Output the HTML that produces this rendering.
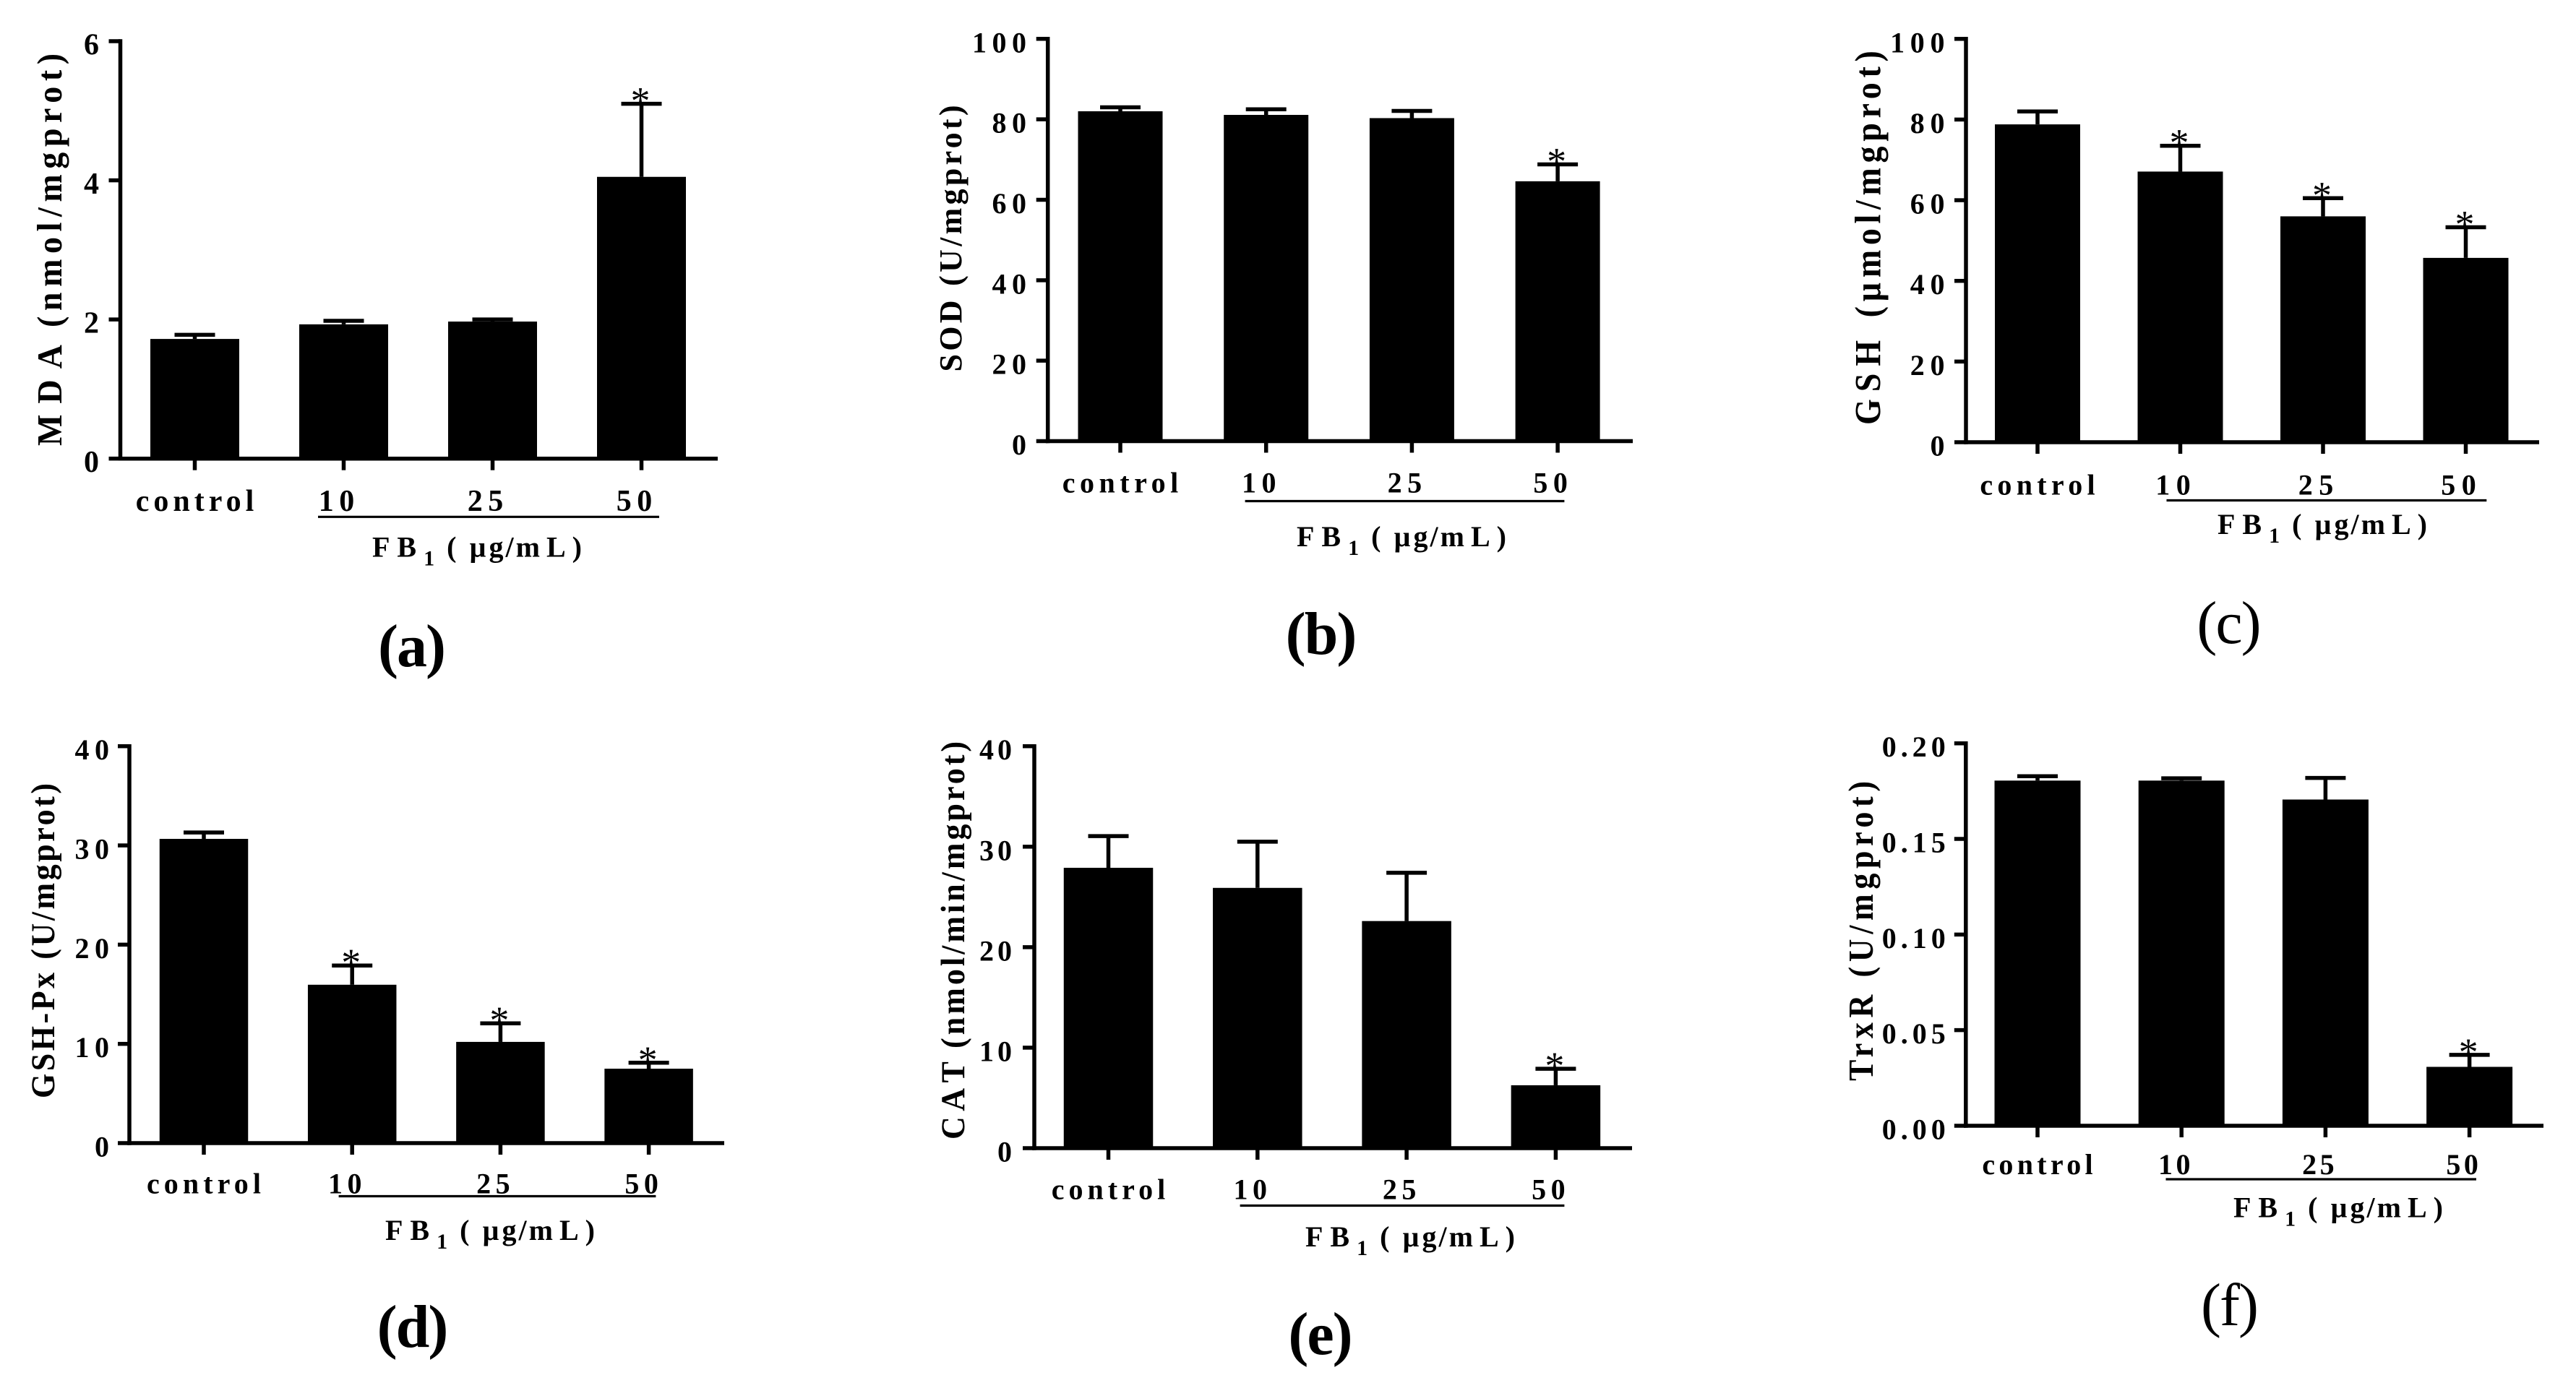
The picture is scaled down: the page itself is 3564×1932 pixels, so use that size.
<!DOCTYPE html>
<html lang="en">
<head>
<meta charset="utf-8">
<title>FB1 oxidative stress markers</title>
<style>
html,body{margin:0;padding:0;background:#fff;}
svg{display:block;}
text{font-family:"Liberation Serif",serif;fill:#000;}
.t{font-weight:bold;font-size:46px;}
.fb{font-weight:bold;font-size:40px;}
.cap{font-size:84px;text-anchor:middle;letter-spacing:-2px;}
.b{font-weight:bold;}
</style>
</head>
<body>
<svg id="figure" xmlns="http://www.w3.org/2000/svg" width="3564" height="1932" viewBox="0 0 3564 1932">
  <rect width="3564" height="1932" fill="#fff"/>

  <g id="panel-a">
    <text class="t" transform="translate(85,617) rotate(-90) scale(1,1.05)"><tspan letter-spacing="15">MD</tspan><tspan letter-spacing="7.6">A (nmol/mgprot)</tspan></text>
    <text class="fb" x="515" y="770.7"><tspan letter-spacing="10">FB</tspan><tspan dy="12" font-size="30" letter-spacing="3">1</tspan><tspan dy="-12" letter-spacing="4"> ( µ</tspan><tspan letter-spacing="3">g/</tspan><tspan letter-spacing="9">mL</tspan>)</text>
    <text class="cap b" x="569" y="922">(a)</text>
  </g>
  <g id="panel-b">
    <text class="t" style="font-size:44px" transform="translate(1330,514.5) rotate(-90)" textLength="369">SOD (U/mgprot)</text>
    <text class="fb" x="1794" y="756"><tspan letter-spacing="10">FB</tspan><tspan dy="12" font-size="30" letter-spacing="3">1</tspan><tspan dy="-12" letter-spacing="4"> ( µ</tspan><tspan letter-spacing="3">g/</tspan><tspan letter-spacing="9">mL</tspan>)</text>
    <text class="cap b" x="1827" y="905">(b)</text>
  </g>
  <g id="panel-c">
    <text class="t" transform="translate(2601.5,588) rotate(-90) scale(1,1.1)"><tspan letter-spacing="10">GSH </tspan><tspan letter-spacing="6.7">(µmol/mgprot)</tspan></text>
    <text class="fb" x="3068" y="739"><tspan letter-spacing="10">FB</tspan><tspan dy="12" font-size="30" letter-spacing="3">1</tspan><tspan dy="-12" letter-spacing="4"> ( µ</tspan><tspan letter-spacing="3">g/</tspan><tspan letter-spacing="9">mL</tspan>)</text>
    <text class="cap" x="3083" y="890">(c)</text>
  </g>
  <g id="panel-d">
    <text class="t" style="font-size:44px" transform="translate(75,1520) rotate(-90) scale(1,1.05)" textLength="436">GSH-Px (U/mgprot)</text>
    <text class="fb" x="533" y="1716"><tspan letter-spacing="10">FB</tspan><tspan dy="12" font-size="30" letter-spacing="3">1</tspan><tspan dy="-12" letter-spacing="4"> ( µ</tspan><tspan letter-spacing="3">g/</tspan><tspan letter-spacing="9">mL</tspan>)</text>
    <text class="cap b" x="570" y="1864">(d)</text>
  </g>
  <g id="panel-e">
    <text class="t" style="font-size:44px" transform="translate(1334,1577) rotate(-90) scale(1,1.05)"><tspan letter-spacing="7.5">CA</tspan><tspan letter-spacing="4">T (nmol/min/mgprot)</tspan></text>
    <text class="fb" x="1806" y="1725"><tspan letter-spacing="10">FB</tspan><tspan dy="12" font-size="30" letter-spacing="3">1</tspan><tspan dy="-12" letter-spacing="4"> ( µ</tspan><tspan letter-spacing="3">g/</tspan><tspan letter-spacing="9">mL</tspan>)</text>
    <text class="cap b" x="1826" y="1874">(e)</text>
  </g>
  <g id="panel-f">
    <text class="t" style="font-size:44px" transform="translate(2591,1496) rotate(-90) scale(1,1.1)" textLength="415">TrxR (U/mgprot)</text>
    <text class="fb" x="3090" y="1684.6"><tspan letter-spacing="10">FB</tspan><tspan dy="12" font-size="30" letter-spacing="3">1</tspan><tspan dy="-12" letter-spacing="4"> ( µ</tspan><tspan letter-spacing="3">g/</tspan><tspan letter-spacing="9">mL</tspan>)</text>
    <text class="cap" x="3084" y="1834">(f)</text>
  </g>
</svg>

<script>
// Shared category labels
const categories = ['control', '10', '25', '50'];

// Panel a: MDA
const mdaValues = [1.72, 1.93, 1.97, 4.05];
const mdaErrorTops = [1.78, 1.98, 2.0, 5.1];
const mdaSignificant = [false, false, false, true];
const mdaTicks = ['0', '2', '4', '6'];

// Panel b: SOD
const sodValues = [82.0, 81.1, 80.3, 64.6];
const sodErrorTops = [83.0, 82.5, 82.1, 68.8];
const sodSignificant = [false, false, false, true];
const sodTicks = ['0', '20', '40', '60', '80', '100'];

// Panel c: GSH
const gshValues = [78.8, 67.1, 56.0, 45.7];
const gshErrorTops = [82.0, 73.5, 60.5, 53.3];
const gshSignificant = [false, true, true, true];
const gshTicks = ['0', '20', '40', '60', '80', '100'];

// Panel d: GSH-Px
const gpxValues = [30.66, 15.96, 10.2, 7.5];
const gpxErrorTops = [31.3, 17.9, 12.07, 8.1];
const gpxSignificant = [false, true, true, true];
const gpxTicks = ['0', '10', '20', '30', '40'];

// Panel e: CAT
const catValues = [27.9, 25.9, 22.6, 6.26];
const catErrorTops = [31.05, 30.5, 27.4, 7.9];
const catSignificant = [false, false, false, true];
const catTicks = ['0', '10', '20', '30', '40'];

// Panel f: TrxR
const trxValues = [0.1805, 0.1805, 0.1706, 0.0308];
const trxErrorTops = [0.1828, 0.1817, 0.1819, 0.0371];
const trxSignificant = [false, false, false, true];
const trxTicks = ['0.00', '0.05', '0.10', '0.15', '0.20'];

const NS = 'http://www.w3.org/2000/svg';
const LINE_W = 5.5;

function shape(parent, tag, attrs) {
  const el = document.createElementNS(NS, tag);
  for (const k in attrs) el.setAttribute(k, attrs[k]);
  parent.appendChild(el);
  return el;
}

function drawPanel(p) {
  const root = document.getElementById(p.id);
  const yMax = parseFloat(p.ticks[p.ticks.length - 1]);
  const yScale = function (v) { return p.bottom - (v / yMax) * (p.bottom - p.top); };
  const xScale = function (i) { return p.x0 + i * p.step; };
  const textStyle = 'font-weight:bold;font-size:' + p.fs + 'px';

  const yAxis = shape(root, 'line', {x1: p.axisX, x2: p.axisX, y1: p.top - LINE_W / 2, y2: p.bottom + LINE_W / 2, stroke: '#000', 'stroke-width': LINE_W});
  
  

  p.values.forEach(function (v, i) {
    const cx = xScale(i);
    const y = yScale(v);
    const errY = yScale(p.errors[i]);

    const stem = shape(root, 'line', {x1: cx, x2: cx, y1: y, y2: errY, stroke: '#000', 'stroke-width': LINE_W});
    
    

    const cap = shape(root, 'line', {x1: cx - 28, x2: cx + 28, y1: errY, y2: errY, stroke: '#000', 'stroke-width': LINE_W});
    
    

    const bar = shape(root, 'rect', {x: cx - p.barW / 2, y: y, width: p.barW, height: p.bottom - y, fill: '#000'});
    
    

    const xTick = shape(root, 'line', {x1: cx, x2: cx, y1: p.bottom, y2: p.bottom + 16, stroke: '#000', 'stroke-width': LINE_W});
    
    

    const isControl = i === 0;
    const spacing = isControl ? p.ctrlLs : p.digitLs;
    const label = shape(root, 'text', {
      x: (isControl ? cx : cx - 10) + spacing / 2,
      y: p.labelY,
      'text-anchor': 'middle',
      style: textStyle,
      'letter-spacing': spacing
    });
    label.textContent = categories[i];
    
    

    if (p.significant[i]) {
      const star = shape(root, 'text', {x: cx - 1.5, y: errY + 14, 'text-anchor': 'middle', 'font-size': 54});
      star.textContent = '*';
      
      
    }
  });

  const xAxis = shape(root, 'line', {x1: p.axisX - LINE_W / 2, x2: p.axisEnd, y1: p.bottom, y2: p.bottom, stroke: '#000', 'stroke-width': LINE_W});
  
  

  p.ticks.forEach(function (t) {
    const y = yScale(parseFloat(t));
    const tick = shape(root, 'line', {x1: p.axisX - 16, x2: p.axisX, y1: y, y2: y, stroke: '#000', 'stroke-width': LINE_W});
    
    

    const lab = shape(root, 'text', {x: p.tickRight + p.yLs, y: y + 18.5, 'text-anchor': 'end', style: textStyle, 'letter-spacing': p.yLs});
    lab.textContent = t;
    
    
  });

  const rule = shape(root, 'line', {x1: p.ruleX1, x2: p.ruleX2, y1: p.ruleY, y2: p.ruleY, stroke: '#000', 'stroke-width': 3.2});
  
  
}

drawPanel({id: 'panel-a', values: mdaValues, errors: mdaErrorTops, significant: mdaSignificant, ticks: mdaTicks,
  axisX: 166.5, top: 57, bottom: 634.7, axisEnd: 993, x0: 269.5, step: 206, barW: 123, tickRight: 137, labelY: 707, ruleX1: 440, ruleX2: 912, ruleY: 715.3,
  fs: 42, ctrlLs: 6, digitLs: 7.5, yLs: 7});
drawPanel({id: 'panel-b', values: sodValues, errors: sodErrorTops, significant: sodSignificant, ticks: sodTicks,
  axisX: 1449.7, top: 53.8, bottom: 610.5, axisEnd: 2259, x0: 1550, step: 201.7, barW: 117, tickRight: 1420, labelY: 681.6, ruleX1: 1722.6, ruleX2: 2164.4, ruleY: 693.5,
  fs: 40, ctrlLs: 6.5, digitLs: 7.5, yLs: 7.5});
drawPanel({id: 'panel-c', values: gshValues, errors: gshErrorTops, significant: gshSignificant, ticks: gshTicks,
  axisX: 2720, top: 53.8, bottom: 612, axisEnd: 3513, x0: 2819, step: 197.5, barW: 118, tickRight: 2690.5, labelY: 684.6, ruleX1: 2997.5, ruleX2: 3440.3, ruleY: 692.5,
  fs: 40, ctrlLs: 6.3, digitLs: 8.5, yLs: 7.7});
drawPanel({id: 'panel-d', values: gpxValues, errors: gpxErrorTops, significant: gpxSignificant, ticks: gpxTicks,
  axisX: 179, top: 1032.7, bottom: 1582, axisEnd: 1002, x0: 282, step: 205.2, barW: 122.5, tickRight: 151, labelY: 1651.6, ruleX1: 468.6, ruleX2: 907.4, ruleY: 1655.5,
  fs: 40, ctrlLs: 6.1, digitLs: 6.5, yLs: 7.5});
drawPanel({id: 'panel-e', values: catValues, errors: catErrorTops, significant: catSignificant, ticks: catTicks,
  axisX: 1431, top: 1032.7, bottom: 1589, axisEnd: 2258, x0: 1533.5, step: 206.3, barW: 123.5, tickRight: 1400, labelY: 1659.6, ruleX1: 1715.6, ruleX2: 2164.4, ruleY: 1668.5,
  fs: 40, ctrlLs: 6, digitLs: 6.5, yLs: 5});
drawPanel({id: 'panel-f', values: trxValues, errors: trxErrorTops, significant: trxSignificant, ticks: trxTicks,
  axisX: 2719.8, top: 1028.7, bottom: 1558, axisEnd: 3519, x0: 2819, step: 199.2, barW: 119, tickRight: 2691.7, labelY: 1625, ruleX1: 2996.5, ruleX2: 3426, ruleY: 1632,
  fs: 40, ctrlLs: 5.3, digitLs: 4.5, yLs: 6});
</script>
</body>
</html>
